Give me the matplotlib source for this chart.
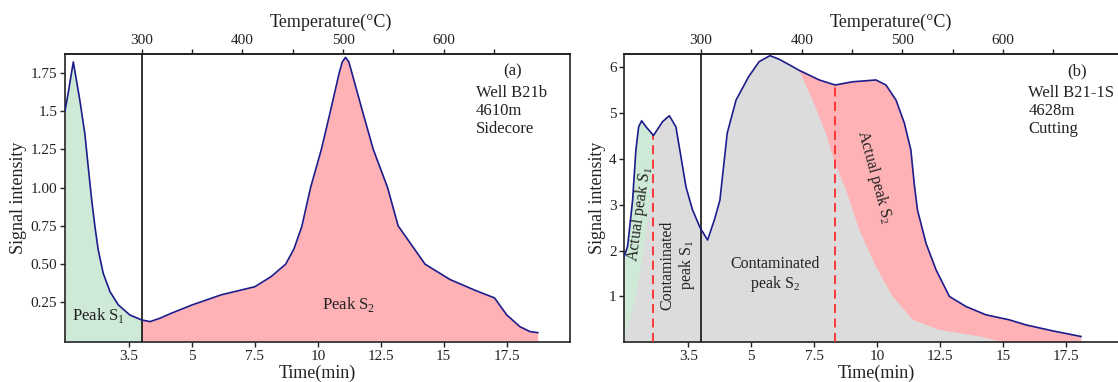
import matplotlib
matplotlib.use("Agg")
from matplotlib import pyplot as plt
from matplotlib.ticker import FixedLocator

plt.rcParams['font.family'] = ['Liberation Serif', 'DejaVu Serif']
plt.rcParams['mathtext.fontset'] = 'custom'
plt.rcParams['mathtext.rm'] = 'Liberation Serif'

# (a) Well B21b, sidecore - pyrolysis signal vs time (min)
time_a = [-0.05, 0.08, 0.28, 0.54, 0.74, 0.87, 1.01, 1.14, 1.27, 1.47, 1.74, 2.07, 2.53,
          3.0, 3.33, 3.72, 4.18, 5.0, 6.16, 7.5, 8.15, 8.72, 9.05, 9.36, 9.71, 10.14, 10.5,
          10.85, 10.97, 11.1, 11.23, 11.35, 11.77, 12.2, 12.77, 13.19, 14.26, 15.25, 16.24,
          17.02, 17.5, 18.03, 18.43, 18.74]
signal_a = [1.5, 1.62, 1.82, 1.57, 1.35, 1.14, 0.92, 0.745, 0.593, 0.44, 0.32, 0.234, 0.168,
            0.136, 0.125, 0.147, 0.18, 0.234, 0.30, 0.353, 0.42, 0.50, 0.60, 0.745, 1.0, 1.25,
            1.5, 1.75, 1.82, 1.85, 1.82, 1.75, 1.5, 1.25, 1.0, 0.75, 0.50, 0.40, 0.33,
            0.28, 0.17, 0.092, 0.06, 0.053]

# (b) Well B21-1S, cutting
time_b = [-0.05, 0.08, 0.21, 0.28, 0.41, 0.52, 0.64, 0.81, 1.11, 1.47, 1.74, 2.0, 2.2, 2.4,
          2.66, 2.97, 3.26, 3.53, 3.75, 4.04, 4.39, 4.89, 5.31, 5.74, 6.11, 6.51, 6.9,
          7.7, 8.33, 9.02, 9.95, 10.35, 10.75, 11.08, 11.34, 11.47, 11.6, 11.94, 12.34,
          12.87, 13.53, 14.32, 15.25, 15.91, 16.97, 18.1]
signal_b = [1.88, 2.09, 2.74, 3.1, 4.19, 4.70, 4.83, 4.70, 4.51, 4.81, 4.94, 4.70, 4.05, 3.39,
            2.89, 2.49, 2.23, 2.67, 3.1, 4.56, 5.28, 5.79, 6.12, 6.25, 6.17, 6.05, 5.93,
            5.72, 5.61, 5.68, 5.72, 5.61, 5.28, 4.78, 4.19, 3.47, 2.89, 2.16, 1.58,
            1.0, 0.78, 0.60, 0.49, 0.38, 0.25, 0.127]

# lower edge of the actual S1 part (green) in (b)
s1_edge_time = [1.11, 1.08, 0.95, 0.72, 0.42, -0.05]
s1_edge_signal = [4.51, 3.8, 3.0, 2.0, 1.0, 0.1]
# lower edge of the actual S2 part (pink) in (b)
s2_edge_time = [6.9, 7.43, 7.96, 8.33, 8.76, 9.29, 9.95, 10.61, 11.41, 12.47, 14.06, 15.0]
s2_edge_signal = [5.93, 5.28, 4.56, 3.90, 3.32, 2.45, 1.65, 1.0, 0.49, 0.27, 0.13, 0.0]

split_time = 3.0          # 300 °C
time_ticks = [2.5, 5, 7.5, 10, 12.5, 15, 17.5]
time_labels = ['3.5', '5', '7.5', '10', '12.5', '15', '17.5']
temp_ticks = [300, 400, 500, 600]
temp_minor = [350, 450, 550, 650]
yticks_a = [0.25, 0.5, 0.75, 1.0, 1.25, 1.5, 1.75]
ylabels_a = ['0.25', '0.50', '0.75', '1.00', '1.25', '1.5', '1.75']
yticks_b = [1, 2, 3, 4, 5, 6]

line_c = '#1c1c8c'
green = '#cfe9d7'
pink = '#ffb2b5'
grey = '#dcdcdc'
ink = '#222222'


def t2T(t):
    return 300 + 25 * (t - split_time)


def T2t(T):
    return split_time + (T - 300) / 25.0


def style_axes(ax, ylim, yticks, ylabels, ylabel_x):
    ax.set_xlim(-0.05, 20.02)
    ax.set_ylim(*ylim)
    ax.set_xticks(time_ticks)
    ax.set_xticklabels(time_labels)
    ax.set_yticks(yticks)
    ax.set_yticklabels(ylabels)
    ax.tick_params(direction='out', length=3.5, width=1, color=ink, labelsize=11,
                   labelcolor=ink, pad=2)
    for s in ax.spines.values():
        s.set_linewidth(1.2)
        s.set_color(ink)
    ax.set_xlabel('Time(min)', fontsize=13, color=ink, va='center')
    ax.xaxis.set_label_coords(0.5, -0.108)
    ax.set_ylabel('Signal intensity', fontsize=13, color=ink, va='center')
    ax.yaxis.set_label_coords(ylabel_x, 0.5)
    ax.axvline(split_time, color='#111111', lw=1.2, zorder=5)

    # temperature scale on top (25 °C/min)
    top = ax.secondary_xaxis('top', functions=(t2T, T2t))
    top.set_xticks(temp_ticks)
    top.xaxis.set_minor_locator(FixedLocator(temp_minor))
    top.tick_params(which='both', direction='out', length=3.5, width=1, color=ink,
                    labelsize=11, labelcolor=ink, pad=2)
    top.spines['top'].set_linewidth(1.2)
    top.spines['top'].set_color(ink)
    top.set_xlabel('Temperature(°C)', fontsize=13, color=ink, va='center')
    top.xaxis.set_label_coords(0.527, 1.11, transform=ax.transAxes)


fig = plt.figure(figsize=(11.18, 3.82), dpi=100)
ax_a = fig.add_axes([65 / 1118, 0.1039, 505 / 1118, 0.754])
ax_b = fig.add_axes([624.3 / 1118, 0.1039, 505 / 1118, 0.754])

# ---- (a)
k = time_a.index(split_time)
ax_a.fill_between(time_a[:k + 1], 0, signal_a[:k + 1], color=green, lw=0)
ax_a.fill_between(time_a[k:], 0, signal_a[k:], color=pink, lw=0)
ax_a.plot(time_a, signal_a, color=line_c, lw=1.2, zorder=6)
style_axes(ax_a, (-0.01, 1.87), yticks_a, ylabels_a, -0.093)

ax_a.text(1.27, 0.162, 'Peak S$_1$', fontsize=12, ha='center', va='center', color=ink)
ax_a.text(11.2, 0.234, 'Peak S$_2$', fontsize=12, ha='center', va='center', color=ink)
ax_a.text(0.887, 0.94, '(a)', transform=ax_a.transAxes, fontsize=12, ha='center',
          va='center', color=ink)
for txt, fy in [('Well B21b', 0.867), ('4610m', 0.804), ('Sidecore', 0.740)]:
    ax_a.text(0.814, fy, txt, transform=ax_a.transAxes, fontsize=12, ha='left',
              va='center', color=ink)

# ---- (b)
ax_b.fill_between(time_b, 0, signal_b, color=grey, lw=0)
j1 = time_b.index(s1_edge_time[0])
ax_b.fill(time_b[:j1 + 1] + s1_edge_time, signal_b[:j1 + 1] + s1_edge_signal,
          color=green, lw=0)
j2 = time_b.index(s2_edge_time[0])
ax_b.fill(time_b[j2:] + [time_b[-1]] + s2_edge_time[::-1],
          signal_b[j2:] + [0] + s2_edge_signal[::-1], color=pink, lw=0)
ax_b.plot(time_b, signal_b, color=line_c, lw=1.2, zorder=6)

# dashed separators at the two troughs
for jt in (j1, time_b.index(8.33)):
    ax_b.plot([time_b[jt], time_b[jt]], [0, signal_b[jt]], color='#ff2a2a', lw=1.3,
              ls=(0, (5, 3)), zorder=4)

style_axes(ax_b, (0, 6.28), yticks_b, [str(v) for v in yticks_b], -0.053)
ax_b.spines['right'].set_visible(False)

ax_b.text(0.57, 2.81, 'Actual peak S$_1$', fontsize=11.5, rotation=82, ha='center',
          va='center', color=ink, rotation_mode='anchor')
ax_b.text(2.1, 1.68, 'Contaminated\npeak S$_1$', fontsize=11.5, rotation=90, ha='center',
          va='center', multialignment='center', color=ink, linespacing=1.1)
ax_b.text(5.94, 1.47, 'Contaminated\npeak S$_2$', fontsize=11.5, ha='center', va='center',
          multialignment='center', color=ink, linespacing=1.1)
ax_b.text(9.88, 3.6, 'Actual peak S$_2$', fontsize=11.5, rotation=-74.7, ha='center',
          va='center', color=ink, rotation_mode='anchor')
ax_b.text(0.896, 0.94, '(b)', transform=ax_b.transAxes, fontsize=12, ha='center',
          va='center', color=ink)
for txt, fy in [('Well B21-1S', 0.867), ('4628m', 0.804), ('Cutting', 0.740)]:
    ax_b.text(0.80, fy, txt, transform=ax_b.transAxes, fontsize=12, ha='left',
              va='center', color=ink)

plt.savefig('out.png', dpi=100)
